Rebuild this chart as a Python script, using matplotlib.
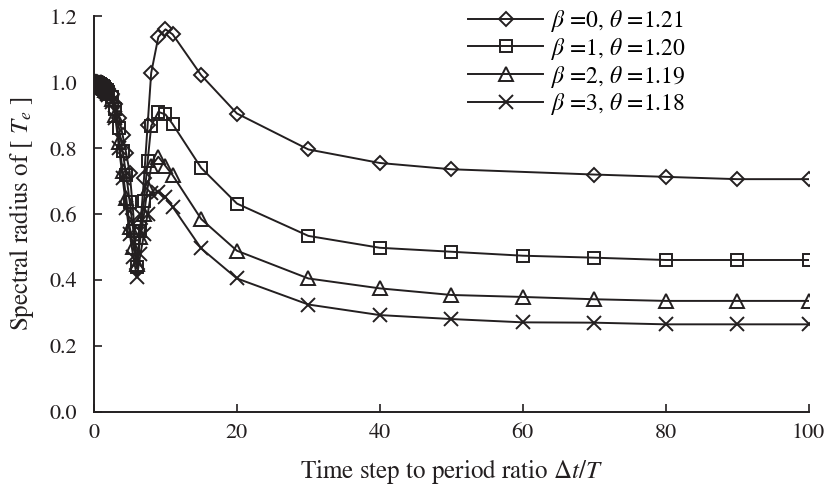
import matplotlib
matplotlib.use('Agg')
import matplotlib.pyplot as plt
from matplotlib.ticker import FormatStrFormatter

# time step to period ratio (shared grid); diamonds have no point at 60
x_common = [0, 0.1, 0.2, 0.3, 0.4, 0.5, 0.6, 0.7, 0.8, 0.9, 1.0, 1.2, 1.4, 1.6, 1.8, 2.0,
            2.5, 3, 3.5, 4, 4.5, 5, 5.5, 6, 6.5, 7, 7.5, 8, 9, 10, 11, 15, 20,
            30, 40, 50, 60, 70, 80, 90, 100]
x_beta0 = [v for v in x_common if v != 60]

rho_beta0 = [1.0, 1.0, 1.0, 1.0, 0.999, 0.998, 0.997, 0.996, 0.995, 0.994, 0.993, 0.99, 0.988, 0.985, 0.982, 0.978,
             0.965, 0.935, 0.89, 0.84, 0.785, 0.725, 0.60, 0.435, 0.57, 0.71, 0.87, 1.028, 1.137, 1.16, 1.145, 1.021, 0.905,
             0.796, 0.755, 0.736, 0.720, 0.713, 0.706, 0.706]
rho_beta1 = [1.0, 1.0, 1.0, 0.999, 0.998, 0.997, 0.996, 0.995, 0.994, 0.992, 0.99, 0.987, 0.984, 0.98, 0.976, 0.97,
             0.955, 0.92, 0.86, 0.79, 0.72, 0.637, 0.55, 0.44, 0.55, 0.64, 0.76, 0.867, 0.91, 0.902, 0.873, 0.740, 0.632,
             0.534, 0.498, 0.486, 0.474, 0.468, 0.461, 0.461, 0.461]
rho_beta2 = [1.0, 1.0, 0.999, 0.998, 0.997, 0.996, 0.995, 0.994, 0.992, 0.99, 0.988, 0.985, 0.981, 0.977, 0.972, 0.966,
             0.948, 0.90, 0.82, 0.73, 0.65, 0.56, 0.50, 0.45, 0.53, 0.60, 0.68, 0.745, 0.774, 0.746, 0.718, 0.585, 0.489,
             0.405, 0.375, 0.355, 0.349, 0.342, 0.337, 0.337, 0.337]
rho_beta3 = [1.0, 0.999, 0.998, 0.997, 0.996, 0.995, 0.994, 0.992, 0.99, 0.988, 0.986, 0.982, 0.978, 0.973, 0.968, 0.961,
             0.94, 0.89, 0.80, 0.71, 0.62, 0.54, 0.47, 0.41, 0.48, 0.54, 0.60, 0.663, 0.668, 0.652, 0.622, 0.496, 0.405,
             0.326, 0.294, 0.282, 0.272, 0.271, 0.266, 0.266, 0.266]

labels = [r'$\beta$ =0, $\theta$ =1.21', r'$\beta$ =1, $\theta$ =1.20',
          r'$\beta$ =2, $\theta$ =1.19', r'$\beta$ =3, $\theta$ =1.18']

plt.rcParams['font.family'] = ['STIXGeneral', 'DejaVu Serif']
plt.rcParams['mathtext.fontset'] = 'stix'

ink = '#231f20'
fig = plt.figure(figsize=(8.27, 4.9), dpi=100)
ax = fig.add_axes([0.1137, 0.159, 0.864, 0.808])

series = [
    (x_beta0, rho_beta0, 'D', 7),
    (x_common, rho_beta1, 's', 8.5),
    (x_common, rho_beta2, '^', 9.5),
    (x_common, rho_beta3, 'x', 10),
]
for (xs, ys, m, ms), lab in zip(series, labels):
    ax.plot(xs, ys, color=ink, lw=1.4, marker=m, markersize=ms,
            markerfacecolor='none', markeredgecolor=ink, markeredgewidth=1.4, label=lab)

ax.set_xlim(0, 100)
ax.set_ylim(0, 1.2)
ax.set_xticks([0, 20, 40, 60, 80, 100])
ax.set_yticks([0, 0.2, 0.4, 0.6, 0.8, 1.0, 1.2])
ax.yaxis.set_major_formatter(FormatStrFormatter('%.1f'))
ax.tick_params(direction='in', length=6, width=1.2, labelsize=16, colors=ink)
ax.tick_params(axis='y', pad=12)
ax.tick_params(axis='x', pad=8)
for side in ['top', 'right']:
    ax.spines[side].set_visible(False)
for side in ['left', 'bottom']:
    ax.spines[side].set_linewidth(1.4)
    ax.spines[side].set_color(ink)

ax.set_xlabel(r'Time step to period ratio $\Delta t/T$', fontsize=18, color=ink, labelpad=10)
ax.set_ylabel(r'Spectral radius of [ $T_e$ ]', fontsize=18, color=ink, labelpad=10)

ax.legend(loc='upper left', bbox_to_anchor=(0.51, 1.045), frameon=False, fontsize=17,
          handlelength=3.2, handletextpad=0.3, labelspacing=0.08, borderaxespad=0)

fig.savefig('out.png', dpi=100)
